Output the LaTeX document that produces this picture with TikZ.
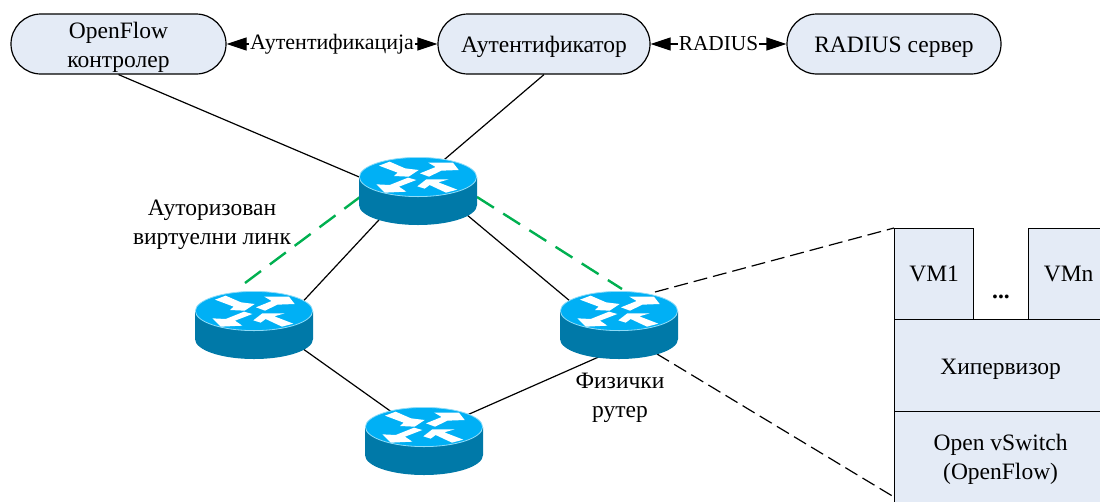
\documentclass[tikz,border=0pt]{standalone}
\usepackage{fontspec}
\setmainfont{Liberation Serif}
\usetikzlibrary{arrows.meta}
\definecolor{boxfill}{HTML}{E4EBF6}
\definecolor{routertop}{HTML}{00B0F5}
\definecolor{routerrim}{HTML}{8FDCF8}
\definecolor{routerside}{HTML}{0079A8}
\definecolor{linkgreen}{HTML}{00B050}
\tikzset{
  x=1pt,y=-1pt,
  every node/.style={font=\fontsize{23.5}{29}\selectfont,align=center,inner sep=0pt},
  pill/.style={draw=black,line width=1.2pt,fill=boxfill,rounded corners=30pt,minimum height=60pt},
  layer/.style={draw=black,line width=1.2pt,fill=boxfill,anchor=north west},
  routerspot/.style={minimum width=118pt,minimum height=68pt},
  wire/.style={draw=black,line width=1.2pt},
  greenlink/.style={draw=linkgreen,line width=2.4pt,dash pattern=on 20pt off 11pt},
  zoomline/.style={draw=black,line width=1.2pt,dash pattern=on 14pt off 6pt},
  both/.style={wire,{Triangle[length=20pt,width=13pt]}-{Triangle[length=20pt,width=13pt]}},
  linklabel/.style={fill=white,inner xsep=1pt,inner ysep=1pt},
  pics/router/.style={code={
    \fill[routerside] (-59,-14) -- (-59,14) .. controls (-59,25) and (-33,34) .. (0,34) .. controls (33,34) and (59,25) .. (59,14) -- (59,-14) -- cycle;
    \fill[routertop,draw=routerrim,line width=.8pt] (0,-14) ellipse [x radius=58.6pt,y radius=19.6pt];
    \begin{scope}[shift={(0,-14)},x=.3333pt,y=-.3333pt,shift={(-235,-112)}]
      \fill[white] (118,78) -- (150,66) -- (196,86) -- (237,91) -- (207,111) -- (163,109) -- (174,99) -- cycle;
      \fill[white] (241,101) -- (288,82) -- (266,69) -- (340,69) -- (357,91) -- (305,93) -- (268,111) -- cycle;
      \fill[white] (205,114) -- (230,121) -- (178,141) -- (200,156) -- (135,159) -- (110,134) -- (150,136) -- cycle;
      \fill[white] (233,140) -- (260,119) -- (327,119) -- (296,128) -- (353,150) -- (319,159) -- (270,136) -- (255,147) -- cycle;
    \end{scope}
  }}
}
\begin{document}
\begin{tikzpicture}
\useasboundingbox (0,0) rectangle (1100,501);
\clip (0,0) rectangle (1100,501);
% router positions
\node[routerspot] (r1) at (418,191) {};
\node[routerspot] (r2) at (254,325) {};
\node[routerspot] (r3) at (619,325) {};
\node[routerspot] (r4) at (424,441) {};
% top pills
\node[pill,minimum width=215pt] (ctrl) at (118.5,44) {};
\node[yshift=-3pt] (ctrltext) at (ctrl.center) {OpenFlow\\контролер};
\node[pill,minimum width=212pt] (auth) at (544,44) {};
\node[yshift=-3pt] (authtext) at (auth.center) {Аутентификатор};
\node[pill,minimum width=214pt] (rad) at (894,44) {};
\node[yshift=-3pt] (radtext) at (rad.center) {RADIUS сервер};
\draw[both] (ctrl.east) -- node[linklabel,font=\fontsize{22}{26}\selectfont] (authlabel) {Аутентификација} (auth.west);
\draw[both] (auth.east) -- node[linklabel,font=\fontsize{21.3}{26}\selectfont] (radlabel) {RADIUS} (rad.west);
% virtualisation stack
\node[layer,minimum width=79pt,minimum height=91pt] (vm1) at (894,228) {};
\node (vm1text) at (vm1.center) {VM1};
\node[layer,minimum width=80pt,minimum height=91pt] (vmn) at (1028,228) {};
\node (vmntext) at (vmn.center) {VMn};
\node[layer,minimum width=212pt,minimum height=92pt] (hyp) at (894,319) {};
\node[yshift=-4pt] (hyptext) at (hyp.center) {Хипервизор};
\node[layer,minimum width=212pt,minimum height=92pt] (ovs) at (894,411) {};
\node[yshift=-2pt] (ovstext) at (ovs.center) {Open vSwitch\\(OpenFlow)};
\node[anchor=base,font=\fontsize{23.5}{29}\selectfont\bfseries] (dots) at (1001,298) {...};
% wires
\draw[wire] (ctrl.south) -- ([yshift=-11pt]r1.center);
\draw[wire] (auth.south) -- ([yshift=9pt]r1.center);
\draw[wire] ([yshift=13pt]r1.center) -- ([yshift=-29pt]r2.center);
\draw[wire] ([yshift=17pt]r1.center) -- ([yshift=-17pt]r3.center);
\draw[wire] ([yshift=11pt]r2.center) -- ([yshift=6pt]r4.center);
\draw[wire] ([yshift=7pt]r4.center) -- ([yshift=-23pt]r3.center);
% green links
\coordinate (gl) at (245,283);
\coordinate (gr) at (622,289);
\draw[greenlink] (gl) -- ([xshift=-58pt,yshift=-6pt]r1.center);
\draw[greenlink] ([xshift=59pt,yshift=-6pt]r1.center) -- (gr);
% zoom lines
\draw[zoomline] ([xshift=36pt,yshift=33pt]r3.center) -- (vm1.north west);
\draw[zoomline] ([xshift=38pt,yshift=-29pt]r3.center) -- ([yshift=-86pt]ovs.north west);
% routers
\path (r1.center) pic {router};
\path (r2.center) pic {router};
\path (r3.center) pic {router};
\path (r4.center) pic {router};
% labels
\node (lab1) at (212,225) {Ауторизован\\виртуелни линк};
\node (lab2) at (620,398) {Физички\\рутер};
\end{tikzpicture}
\end{document}
